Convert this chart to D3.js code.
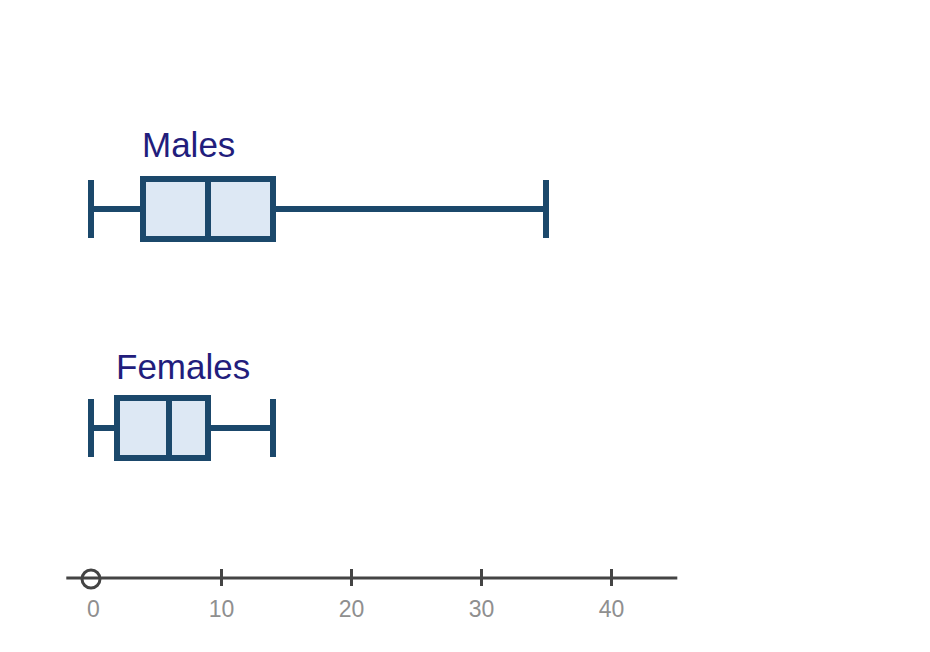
<!DOCTYPE html>
<html>
<head>
<meta charset="utf-8">
<script src="https://cdn.jsdelivr.net/npm/d3@7"></script>
<style>
html,body{margin:0;padding:0;background:#fff;}
svg{display:block;}
</style>
</head>
<body>
<script>
const categories = ["Males", "Females"];
const mins = [0, 0];
const q1s = [4, 2];
const medians = [9, 6];
const q3s = [14, 9];
const maxs = [35, 14];
const tickValues = [0, 10, 20, 30, 40];

const W = 930, H = 652;
const svg = d3.select("body").append("svg").attr("width", W).attr("height", H);

const x = d3.scaleLinear().domain([0, 40]).range([91, 611]);
const y = d3.scalePoint().domain(categories).range([209, 428]);

const boxH = 60, capH = 58, sw = 6;
const strokeC = "#1b486b", fillC = "#dde8f4";
const labelOffset = [52, 49];

const data = categories.map((c, i) => ({c, i, min: mins[i], q1: q1s[i], med: medians[i], q3: q3s[i], max: maxs[i]}));

const g = svg.append("g").selectAll("g").data(data).join("g");

// whisker lines
g.append("line").attr("x1", d => x(d.min)).attr("x2", d => x(d.q1))
  .attr("y1", d => y(d.c)).attr("y2", d => y(d.c))
  .attr("stroke", strokeC).attr("stroke-width", sw);
g.append("line").attr("x1", d => x(d.q3)).attr("x2", d => x(d.max))
  .attr("y1", d => y(d.c)).attr("y2", d => y(d.c))
  .attr("stroke", strokeC).attr("stroke-width", sw);
// caps
g.append("line").attr("x1", d => x(d.min)).attr("x2", d => x(d.min))
  .attr("y1", d => y(d.c) - capH/2).attr("y2", d => y(d.c) + capH/2)
  .attr("stroke", strokeC).attr("stroke-width", sw);
g.append("line").attr("x1", d => x(d.max)).attr("x2", d => x(d.max))
  .attr("y1", d => y(d.c) - capH/2).attr("y2", d => y(d.c) + capH/2)
  .attr("stroke", strokeC).attr("stroke-width", sw);
// box
g.append("rect").attr("x", d => x(d.q1)).attr("width", d => x(d.q3) - x(d.q1))
  .attr("y", d => y(d.c) - boxH/2).attr("height", boxH)
  .attr("fill", fillC).attr("stroke", strokeC).attr("stroke-width", sw);
// median
g.append("line").attr("x1", d => x(d.med)).attr("x2", d => x(d.med))
  .attr("y1", d => y(d.c) - boxH/2).attr("y2", d => y(d.c) + boxH/2)
  .attr("stroke", strokeC).attr("stroke-width", sw);
// labels
g.append("text").attr("x", d => x(d.q1) - 1).attr("y", d => y(d.c) - labelOffset[d.i])
  .attr("font-family", "Liberation Sans, Arial, sans-serif").attr("font-size", 35)
  .attr("fill", "#221d7c").text(d => d.c);

// axis
const axisY = 578;
const axis = d3.axisBottom(x).tickValues(tickValues).tickSize(0).tickPadding(0).tickFormat(d3.format("d"));
const ag = svg.append("g").attr("transform", `translate(0,${axisY})`).call(axis);
ag.select(".domain").remove();
ag.insert("line", ":first-child").attr("x1", x(-1.9)).attr("x2", x(45.1)).attr("y1", 0).attr("y2", 0)
  .attr("stroke", "#444").attr("stroke-width", 3);
ag.selectAll(".tick line").attr("y1", -9).attr("y2", 8).attr("stroke", "#444").attr("stroke-width", 3)
  .attr("display", d => d === 0 ? "none" : null);
ag.selectAll(".tick text").attr("y", 39).attr("dy", null).attr("font-size", 23)
  .attr("font-family", "Liberation Sans, Arial, sans-serif").attr("fill", "#8f8f8f")
  .attr("dx", d => d === 0 ? 2 : 0);
ag.append("circle").attr("cx", x(0)).attr("cy", 1).attr("r", 9)
  .attr("fill", "none").attr("stroke", "#444").attr("stroke-width", 3);
</script>
</body>
</html>
